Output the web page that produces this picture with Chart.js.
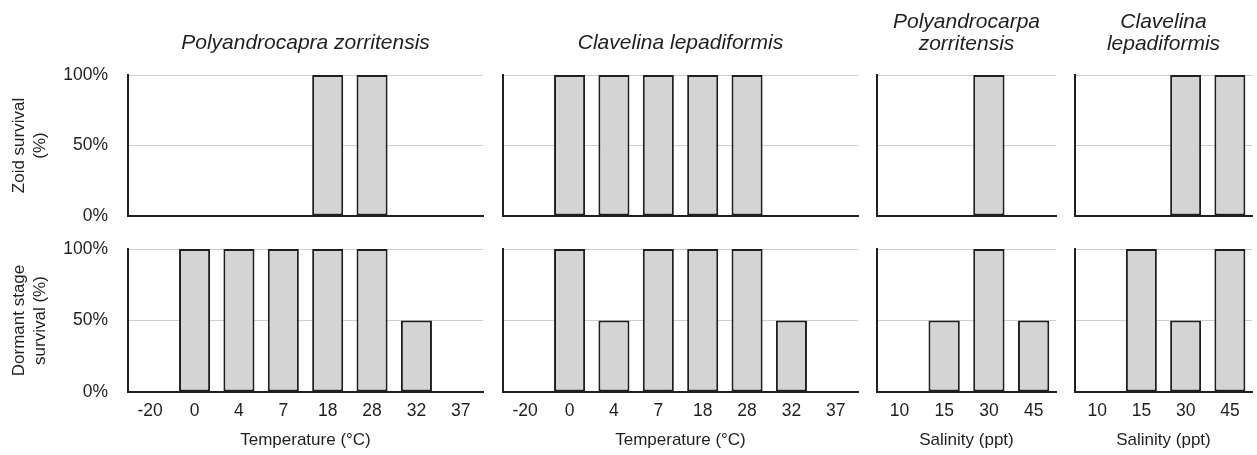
<!DOCTYPE html>
<html>
<head>
<meta charset="utf-8">
<script src="https://cdn.jsdelivr.net/npm/chart.js@4/dist/chart.umd.min.js"></script>
<style>
  body { margin: 0; background: #fff; }
  #wrap { position: relative; width: 1257px; height: 455px; overflow: hidden; }
  canvas { position: absolute; }
</style>
</head>
<body>
<div id="wrap">
  <canvas id="c1"></canvas><canvas id="c2"></canvas><canvas id="c3"></canvas><canvas id="c4"></canvas>
  <canvas id="c5"></canvas><canvas id="c6"></canvas><canvas id="c7"></canvas><canvas id="c8"></canvas>
</div>
<script>
// categories
var tempLabels = ['-20', '0', '4', '7', '18', '28', '32', '37'];
var salLabels = ['10', '15', '30', '45'];
var yTicks = [0, 50, 100];

// zoid survival (%)
var pzTempZooid = [0, 0, 0, 0, 100, 100, 0, 0];
var clTempZooid = [0, 100, 100, 100, 100, 100, 0, 0];
var pzSalZooid = [0, 0, 100, 0];
var clSalZooid = [0, 0, 100, 100];

// dormant stage survival (%)
var pzTempDormant = [0, 100, 100, 100, 100, 100, 50, 0];
var clTempDormant = [0, 100, 50, 100, 100, 100, 50, 0];
var pzSalDormant = [0, 50, 100, 50];
var clSalDormant = [0, 100, 50, 100];

var FONT = '"Liberation Sans", Arial, Helvetica, sans-serif';
var INK = '#1f1f1f';

// plot columns (left / right of the plot area)
var cols = [
    { left: 128, right: 483, title: 'Polyandrocapra zorritensis', xTitle: 'Temperature (\u00b0C)' },
    { left: 503, right: 858, title: 'Clavelina lepadiformis', xTitle: 'Temperature (\u00b0C)' },
    { left: 877, right: 1056, title: ['Polyandrocarpa', 'zorritensis'], xTitle: 'Salinity (ppt)' },
    { left: 1075, right: 1252, title: ['Clavelina', 'lepadiformis'], xTitle: 'Salinity (ppt)' }
];

function makePanel(id, col, colIdx, row, labels, values) {
    var first = colIdx === 0;
    var top = row === 0;
    var canvasLeft = first ? 0 : col.left - 3;
    var canvasTop = top ? 0 : 230;
    var w = col.right + 3 - canvasLeft;
    var h = top ? 222 : 225;
    var cv = document.getElementById(id);
    cv.width = w; cv.height = h;
    cv.style.left = canvasLeft + 'px';
    cv.style.top = canvasTop + 'px';

    var twoLine = Array.isArray(col.title);
    var titleOpts = { display: false };
    if (top) {
        titleOpts = {
            display: true,
            fullSize: false,
            text: col.title,
            color: INK,
            font: { family: FONT, size: 21, style: 'italic', weight: 'normal', lineHeight: twoLine ? '22px' : 1.2 },
            padding: twoLine ? { top: 11, bottom: 20 } : { top: 30.4, bottom: 19.4 }
        };
    }

    new Chart(cv.getContext('2d'), {
        type: 'bar',
        data: {
            labels: labels,
            datasets: [{
                data: values,
                backgroundColor: '#d4d4d4',
                borderColor: INK,
                borderWidth: 2,
                borderSkipped: false,
                barPercentage: 0.7,
                categoryPercentage: 1.0,
                clip: false
            }]
        },
        options: {
            responsive: false,
            animation: false,
            layout: { padding: { left: first ? 0 : 3, right: 3, top: top ? 0 : 19, bottom: top ? 6 : 0 } },
            plugins: {
                legend: { display: false },
                tooltip: { enabled: false },
                title: titleOpts
            },
            scales: {
                x: {
                    grid: { display: false, drawTicks: false },
                    border: { display: true, color: INK, width: 2 },
                    ticks: {
                        display: !top,
                        color: INK,
                        padding: 8.5,
                        font: { family: FONT, size: 17.5 }
                    },
                    title: {
                        display: !top,
                        text: col.xTitle,
                        color: INK,
                        font: { family: FONT, size: 17 },
                        padding: { top: 0, bottom: 4.8 }
                    },
                    afterFit: function (s) { s.height = top ? 0 : 63; }
                },
                y: {
                    min: 0,
                    max: 100,
                    afterBuildTicks: function (s) { s.ticks = yTicks.map(function (v) { return { value: v }; }); },
                    grid: { color: '#cfcfcf', lineWidth: 1, drawTicks: false },
                    border: { display: true, color: INK, width: 2 },
                    ticks: {
                        display: first,
                        color: INK,
                        padding: 20,
                        font: { family: FONT, size: 17.5 },
                        callback: function (v) { return v + '%'; }
                    },
                    title: {
                        display: first,
                        text: top ? ['Zoid survival', '(%)'] : ['Dormant stage', 'survival (%)'],
                        color: INK,
                        font: { family: FONT, size: 17, lineHeight: '21px' },
                        padding: { top: 8.5, bottom: 0 }
                    },
                    afterFit: function (s) {
                        s.width = first ? 128 : 0;
                        // keep the plot areas aligned across columns
                        s.paddingTop = 0;
                        s.paddingBottom = 0;
                    }
                }
            }
        }
    });
}

makePanel('c1', cols[0], 0, 0, tempLabels, pzTempZooid);
makePanel('c2', cols[1], 1, 0, tempLabels, clTempZooid);
makePanel('c3', cols[2], 2, 0, salLabels, pzSalZooid);
makePanel('c4', cols[3], 3, 0, salLabels, clSalZooid);
makePanel('c5', cols[0], 0, 1, tempLabels, pzTempDormant);
makePanel('c6', cols[1], 1, 1, tempLabels, clTempDormant);
makePanel('c7', cols[2], 2, 1, salLabels, pzSalDormant);
makePanel('c8', cols[3], 3, 1, salLabels, clSalDormant);
</script>
</body>
</html>
